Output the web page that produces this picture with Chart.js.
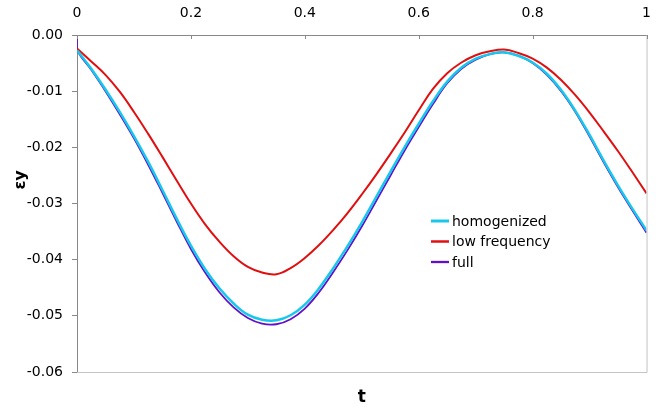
<!DOCTYPE html>
<html lang="en">
<head>
    <meta charset="UTF-8">
    <title>Strain eps_y vs t</title>
    <script src="https://cdn.jsdelivr.net/npm/chart.js"></script>
    <style>
    body {
        margin: 0;
        background-color: #ffffff;
        overflow: hidden;
    }
    canvas {
        display: block;
    }
</style>
</head>
<body>
    <canvas id="strain-chart" width="664" height="410"></canvas>

    <script>
    // time samples (t) and strain readings
    const tValues = [0, 0.025, 0.05, 0.075, 0.1, 0.125, 0.15, 0.175, 0.2, 0.225,
        0.25, 0.275, 0.3, 0.325, 0.35, 0.375, 0.4, 0.425, 0.45, 0.475,
        0.5, 0.525, 0.55, 0.575, 0.6, 0.625, 0.65, 0.675, 0.7, 0.725,
        0.75, 0.775, 0.8, 0.825, 0.85, 0.875, 0.9, 0.925, 0.95, 0.975, 1];

    const homogenized = [-0.0027, -0.0060, -0.0097, -0.0137, -0.0180, -0.0226, -0.0276, -0.0327, -0.0375, -0.0417,
        -0.0451, -0.0478, -0.0498, -0.0507, -0.0508, -0.0499, -0.0480, -0.0451, -0.0415, -0.0376,
        -0.0334, -0.0289, -0.0244, -0.0200, -0.0158, -0.0118, -0.0083, -0.0058, -0.0042, -0.0034,
        -0.0031, -0.0037, -0.0049, -0.0069, -0.0098, -0.0135, -0.0178, -0.0224, -0.0268, -0.0309, -0.0348];

    const lowFrequency = [-0.0024, -0.0047, -0.0071, -0.0101, -0.0137, -0.0176, -0.0217, -0.0259, -0.0300, -0.0337,
        -0.0368, -0.0394, -0.0413, -0.0423, -0.0426, -0.0415, -0.0397, -0.0374, -0.0347, -0.0317,
        -0.0284, -0.0249, -0.0212, -0.0174, -0.0134, -0.0096, -0.0068, -0.0049, -0.0036, -0.0029,
        -0.0026, -0.0032, -0.0042, -0.0058, -0.0080, -0.0107, -0.0138, -0.0172, -0.0207, -0.0244, -0.0282];

    // full solution starts at 0 and drops straight down at t = 0
    const fullT = [0].concat(tValues);
    const full = [0.0000, -0.0026, -0.0062, -0.0100, -0.0141, -0.0184, -0.0231, -0.0281, -0.0332, -0.0381, -0.0423,
        -0.0458, -0.0485, -0.0504, -0.0514, -0.0515, -0.0506, -0.0487, -0.0458, -0.0422, -0.0383,
        -0.0341, -0.0296, -0.0251, -0.0206, -0.0164, -0.0123, -0.0086, -0.0060, -0.0044, -0.0034,
        -0.0031, -0.0037, -0.0050, -0.0071, -0.0100, -0.0137, -0.0181, -0.0227, -0.0271, -0.0312, -0.0352];

    const xTicks = [0, 0.2, 0.4, 0.6, 0.8, 1];
    const yTicks = [0, -0.01, -0.02, -0.03, -0.04, -0.05, -0.06];

    function toPoints(xs, ys) {
        return xs.map((x, i) => ({ x: x, y: ys[i] }));
    }

    const FONT = "'DejaVu Sans', Verdana, sans-serif";

    // axis titles, frame, inner ticks on the top axis and the inset legend
    const decorations = {
        id: 'decorations',
        afterDraw(chart) {
            const ctx = chart.ctx;
            const area = chart.chartArea;
            const xScale = chart.scales.x;
            ctx.save();

            // light frame on right and bottom
            ctx.strokeStyle = '#c4c4c4';
            ctx.lineWidth = 1;
            ctx.beginPath();
            ctx.moveTo(area.right + 0.5, area.top);
            ctx.lineTo(area.right + 0.5, area.bottom + 0.5);
            ctx.lineTo(area.left, area.bottom + 0.5);
            ctx.stroke();

            // tick marks of the top axis point into the plot
            ctx.strokeStyle = '#888888';
            xScale.ticks.forEach(tick => {
                const px = Math.round(xScale.getPixelForValue(tick.value)) + 0.5;
                ctx.beginPath();
                ctx.moveTo(px, area.top);
                ctx.lineTo(px, area.top + 4);
                ctx.stroke();
            });

            // axis titles
            ctx.fillStyle = '#000000';
            ctx.textAlign = 'center';
            ctx.textBaseline = 'middle';
            ctx.font = 'bold 17px ' + FONT;
            ctx.fillText('t', (area.left + area.right) / 2, 398);

            ctx.save();
            ctx.translate(21, area.top + (area.bottom - area.top) * 0.43);
            ctx.rotate(-Math.PI / 2);
            ctx.font = 'bold 16px ' + FONT;
            ctx.fillText('\u03b5y', 0, 0);
            ctx.restore();

            // legend
            ctx.font = '14px ' + FONT;
            ctx.textAlign = 'left';
            chart.data.datasets.forEach((ds, i) => {
                const y = 221 + i * 20.5;
                ctx.strokeStyle = ds.borderColor;
                ctx.lineWidth = ds.borderWidth + 0.5;
                ctx.beginPath();
                ctx.moveTo(431, y);
                ctx.lineTo(449, y);
                ctx.stroke();
                ctx.fillStyle = '#000000';
                ctx.fillText(ds.label, 452, y + 1);
            });
            ctx.restore();
        }
    };

    const ctx = document.getElementById('strain-chart').getContext('2d');
    const chart = new Chart(ctx, {
        type: 'line',
        data: {
            datasets: [{
                label: 'homogenized',
                data: toPoints(tValues, homogenized),
                borderColor: '#18c8ec',
                borderWidth: 2.5
            }, {
                label: 'low frequency',
                data: toPoints(tValues, lowFrequency),
                borderColor: '#e01010',
                borderWidth: 2
            }, {
                label: 'full',
                data: toPoints(fullT, full),
                borderColor: '#6010c8',
                borderWidth: 1.8
            }]
        },
        options: {
            responsive: false,
            animation: false,
            devicePixelRatio: 1,
            layout: {
                padding: { left: 0, right: 17, top: 0, bottom: 38 }
            },
            elements: {
                point: { radius: 0 },
                line: { tension: 0.4, fill: false }
            },
            plugins: {
                legend: { display: false },
                tooltip: { enabled: false }
            },
            scales: {
                x: {
                    type: 'linear',
                    position: 'top',
                    min: 0,
                    max: 1,
                    afterBuildTicks: scale => {
                        scale.ticks = xTicks.map(v => ({ value: v }));
                    },
                    afterFit: scale => { scale.height = 35; },
                    ticks: {
                        color: '#000000',
                        padding: 13,
                        autoSkip: false,
                        maxRotation: 0,
                        font: { family: FONT, size: 14 },
                        callback: v => String(Math.round(v * 10) / 10)
                    },
                    grid: { drawOnChartArea: false, drawTicks: false, color: '#888888' },
                    border: { color: '#888888' }
                },
                y: {
                    type: 'linear',
                    min: -0.06,
                    max: 0,
                    afterBuildTicks: scale => {
                        scale.ticks = yTicks.map(v => ({ value: v }));
                    },
                    afterFit: scale => { scale.width = 77; },
                    ticks: {
                        color: '#000000',
                        padding: 9,
                        autoSkip: false,
                        font: { family: FONT, size: 14 },
                        callback: v => (Math.abs(v) < 1e-9 ? '0.00' : v.toFixed(2))
                    },
                    grid: { drawOnChartArea: false, tickLength: 5, color: '#888888' },
                    border: { color: '#888888' }
                }
            }
        },
        plugins: [decorations]
    });
    </script>
</body>
</html>
